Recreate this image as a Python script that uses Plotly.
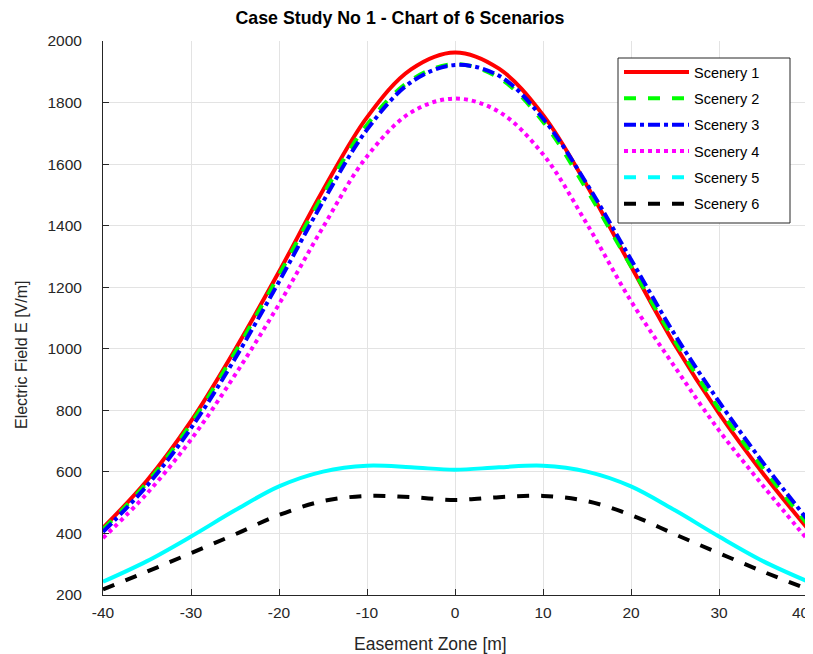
import plotly.graph_objects as go

# ---- data ----
x_m = [-40, -35, -30, -25, -20, -15, -10, -5, 0, 5, 10, 15, 20, 25, 30, 35, 40]

scenery1 = [418, 572, 765, 997, 1250, 1515, 1752, 1908, 1963, 1910, 1760, 1530, 1268, 1012, 790, 595, 418]
scenery2 = [413, 565, 757, 988, 1240, 1500, 1728, 1873, 1925, 1880, 1738, 1515, 1268, 1025, 805, 612, 432]
scenery3 = [405, 555, 742, 968, 1218, 1478, 1712, 1866, 1922, 1887, 1748, 1535, 1290, 1045, 828, 630, 447]
scenery4 = [385, 530, 705, 915, 1145, 1395, 1625, 1768, 1813, 1770, 1632, 1405, 1155, 940, 735, 555, 382]
scenery5 = [243, 310, 390, 475, 553, 601, 620, 615, 607, 615, 620, 601, 553, 475, 390, 310, 245]
scenery6 = [218, 276, 336, 397, 460, 505, 522, 518, 509, 518, 522, 505, 460, 397, 336, 276, 220]

names = ["Scenery 1", "Scenery 2", "Scenery 3", "Scenery 4", "Scenery 5", "Scenery 6"]
series = [scenery1, scenery2, scenery3, scenery4, scenery5, scenery6]
colors = ["#ff0000", "#00ff00", "#0000ff", "#ff00ff", "#00ffff", "#000000"]
plot_dash = ["solid", "dash", "dashdot", "dot", "solid", "dash"]
legend_dash = ["solid", "dash", "dashdot", "dot", "dash", "dash"]

x_ticks = list(range(-40, 41, 10))
x_ticktext = ["-40", "-30", "-20", "-10", "0", "10", "20", "30", "40\u00a0\u00a0\u00a0"]
y_ticks = list(range(200, 2001, 200))

FONT = "Arial, 'Liberation Sans', Helvetica, sans-serif"
TXT = "#262626"

fig = go.Figure()
for i, (nm, ys) in enumerate(zip(names, series)):
    same = plot_dash[i] == legend_dash[i]
    fig.add_trace(go.Scatter(
        x=x_m, y=ys, mode="lines", name=nm,
        line=dict(color=colors[i], width=4, dash=plot_dash[i], shape="spline", smoothing=1.0),
        showlegend=same, legendgroup=nm, legendrank=i + 1,
    ))
    if not same:
        fig.add_trace(go.Scatter(
            x=[None], y=[None], mode="lines", name=nm,
            line=dict(color=colors[i], width=4, dash=legend_dash[i]),
            showlegend=True, legendgroup=nm, legendrank=i + 1,
        ))

# page body has an 8px margin: screen position = figure position + 8
OFF = 8
W, H = 813, 654
PL, PR, PT, PB = 103, 807, 41, 595          # plot area on screen
L, T = PL - OFF, PT - OFF
R = W - (PR - OFF)
B = H - (PB - OFF)
PW, PH = PR - PL, PB - PT

def px(xs):
    return (xs - PL) / PW

def py(ys):
    return (PB - ys) / PH

fig.update_layout(
    width=W, height=H,
    margin=dict(l=L, r=R, t=T, b=B, autoexpand=False),
    paper_bgcolor="white", plot_bgcolor="white",
    font=dict(family=FONT, size=15, color=TXT),
    title=dict(text="<b>Case Study No 1 - Chart of 6 Scenarios</b>",
               x=(400 - OFF) / W, xanchor="center", y=1 - (18 - OFF) / H, yanchor="middle",
               font=dict(family=FONT, size=17.8, color="#000000")),
    showlegend=True,
    legend=dict(x=px(619), xanchor="left", y=py(56), yanchor="top",
                bgcolor="rgba(0,0,0,0)", borderwidth=0,
                font=dict(family=FONT, size=14.5, color="#000000"),
                itemwidth=65, tracegroupgap=4.5, traceorder="grouped"),
    shapes=[dict(type="rect", xref="paper", yref="paper",
                 x0=px(618), x1=px(790), y0=py(223), y1=py(58),
                 line=dict(color=TXT, width=1), fillcolor="white", layer="above")],
    xaxis=dict(range=[-40, 40], tickvals=x_ticks, ticktext=x_ticktext,
               showgrid=True, gridcolor="#e3e3e3", gridwidth=1,
               showline=True, linecolor=TXT, linewidth=1, mirror=False,
               ticks="inside", ticklen=6, tickcolor=TXT, zeroline=False,
               ticklabelstandoff=3, ticklabeloverflow="allow",
               tickfont=dict(family=FONT, size=15.5, color=TXT)),
    yaxis=dict(range=[200, 2000], tickvals=y_ticks, ticktext=[str(v) for v in y_ticks],
               showgrid=True, gridcolor="#e3e3e3", gridwidth=1,
               showline=True, linecolor=TXT, linewidth=1, mirror=False,
               ticks="inside", ticklen=6, tickcolor=TXT, zeroline=False,
               ticklabelstandoff=17,
               tickfont=dict(family=FONT, size=15.5, color=TXT)),
    annotations=[
        dict(text="Easement Zone [m]", xref="paper", yref="paper",
             x=px(430), y=py(644),
             xanchor="center", yanchor="middle", showarrow=False,
             font=dict(family=FONT, size=17.5, color=TXT)),
        dict(text="Electric Field E [V/m]", xref="paper", yref="paper",
             x=px(21), y=py(355),
             xanchor="center", yanchor="middle", showarrow=False, textangle=-90,
             font=dict(family=FONT, size=16, color=TXT)),
    ],
)

fig.write_html("out.html")
